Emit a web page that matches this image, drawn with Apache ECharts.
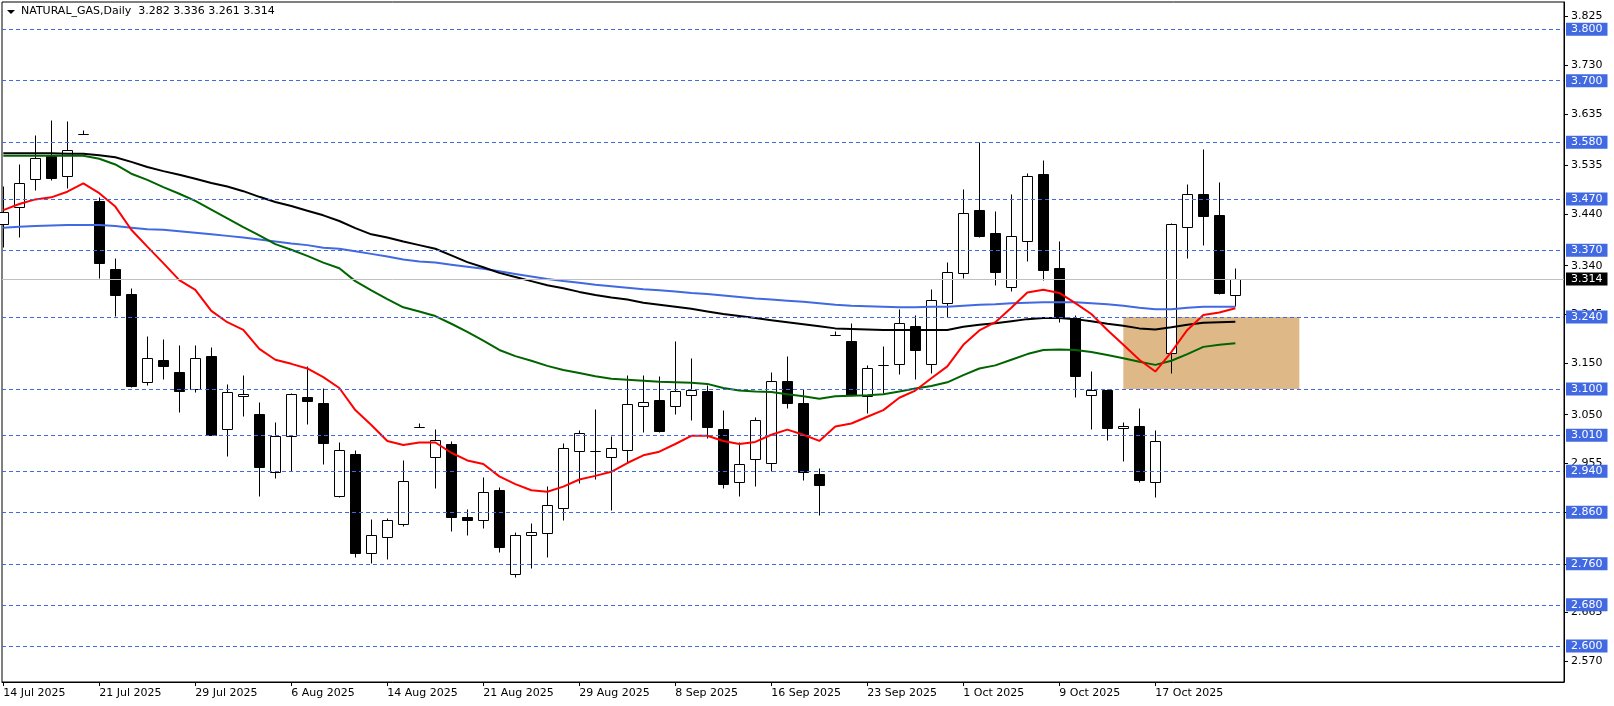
<!DOCTYPE html>
<html>
<head>
<meta charset="utf-8">
<script src="https://cdn.jsdelivr.net/npm/echarts@6/dist/echarts.min.js"></script>
<style>
html,body{margin:0;padding:0;background:#fff;}
#chart{width:1614px;height:706px;}
</style>
</head>
<body>
<div id="chart"></div>
<script>
// ---------------- data ----------------
const symbol = 'NATURAL_GAS';
const timeframe = 'Daily';

const dates = [
  '14 Jul 2025','15 Jul 2025','16 Jul 2025','17 Jul 2025','18 Jul 2025','20 Jul 2025',
  '21 Jul 2025','22 Jul 2025','23 Jul 2025','24 Jul 2025','25 Jul 2025','28 Jul 2025',
  '29 Jul 2025','30 Jul 2025','31 Jul 2025','1 Aug 2025','4 Aug 2025','5 Aug 2025',
  '6 Aug 2025','7 Aug 2025','8 Aug 2025','11 Aug 2025','12 Aug 2025','13 Aug 2025',
  '14 Aug 2025','15 Aug 2025','17 Aug 2025','18 Aug 2025','19 Aug 2025','20 Aug 2025',
  '21 Aug 2025','22 Aug 2025','25 Aug 2025','26 Aug 2025','27 Aug 2025','28 Aug 2025',
  '29 Aug 2025','1 Sep 2025','2 Sep 2025','3 Sep 2025','4 Sep 2025','5 Sep 2025',
  '8 Sep 2025','9 Sep 2025','10 Sep 2025','11 Sep 2025','12 Sep 2025','15 Sep 2025',
  '16 Sep 2025','17 Sep 2025','18 Sep 2025','19 Sep 2025','21 Sep 2025','22 Sep 2025',
  '23 Sep 2025','24 Sep 2025','25 Sep 2025','26 Sep 2025','29 Sep 2025','30 Sep 2025',
  '1 Oct 2025','2 Oct 2025','3 Oct 2025','6 Oct 2025','7 Oct 2025','8 Oct 2025',
  '9 Oct 2025','10 Oct 2025','13 Oct 2025','14 Oct 2025','15 Oct 2025','16 Oct 2025',
  '17 Oct 2025','20 Oct 2025','21 Oct 2025','22 Oct 2025','23 Oct 2025','24 Oct 2025'
];

const open = [3.421,3.454,3.508,3.554,3.514,3.596,3.466,3.334,3.285,3.113,
  3.157,3.133,3.100,3.164,3.022,3.086,3.051,2.939,3.008,3.085,
  3.073,2.891,2.974,2.780,2.813,2.837,3.026,2.967,2.993,2.850,
  2.845,2.904,2.741,2.815,2.819,2.868,2.979,2.980,2.967,2.982,
  3.066,3.079,3.066,3.088,3.096,3.022,2.919,2.963,2.957,3.116,
  3.073,2.935,3.205,3.194,3.086,3.146,3.148,3.223,3.148,3.267,
  3.325,3.448,3.404,3.298,3.388,3.518,3.336,3.238,3.088,3.098,
  3.024,3.028,2.920,3.170,3.415,3.479,3.438,3.282];

const high = [3.495,3.538,3.594,3.624,3.622,3.604,3.474,3.355,3.296,3.203,
  3.197,3.186,3.186,3.182,3.110,3.127,3.074,3.035,3.092,3.144,
  3.102,2.997,2.981,2.847,2.849,2.962,3.033,3.022,2.998,2.867,
  2.929,2.909,2.822,2.839,2.911,2.994,3.020,3.061,3.009,3.127,
  3.127,3.125,3.193,3.160,3.108,3.059,2.997,3.045,3.133,3.164,
  3.101,2.946,3.213,3.229,3.147,3.184,3.256,3.244,3.294,3.347,
  3.489,3.581,3.446,3.480,3.520,3.546,3.388,3.245,3.135,3.101,
  3.036,3.063,3.020,3.424,3.499,3.568,3.503,3.336];

const low = [3.377,3.396,3.487,3.507,3.491,3.596,3.316,3.243,3.103,3.107,
  3.120,3.056,3.095,3.010,2.970,3.048,2.892,2.926,2.941,3.031,
  2.955,2.889,2.773,2.762,2.770,2.833,3.026,2.908,2.824,2.815,
  2.830,2.782,2.735,2.752,2.774,2.845,2.918,2.925,2.865,2.956,
  3.017,3.017,3.052,3.040,3.004,2.908,2.892,2.912,2.941,3.064,
  2.922,2.854,3.205,3.087,3.053,3.092,3.129,3.119,3.131,3.241,
  3.316,3.396,3.303,3.291,3.350,3.312,3.231,3.085,3.022,3.000,
  2.959,2.920,2.889,3.132,3.354,3.381,3.285,3.261];

const close = [3.444,3.500,3.549,3.511,3.565,3.596,3.345,3.282,3.106,3.160,
  3.145,3.097,3.160,3.011,3.094,3.090,2.949,3.009,3.090,3.077,
  2.994,2.981,2.780,2.815,2.845,2.921,3.026,3.000,2.850,2.846,
  2.899,2.793,2.815,2.821,2.874,2.985,3.014,2.979,2.985,3.070,
  3.074,3.019,3.096,3.098,3.027,2.916,2.954,3.039,3.115,3.073,
  2.938,2.914,3.205,3.088,3.140,3.146,3.228,3.175,3.273,3.327,
  3.442,3.398,3.328,3.397,3.514,3.332,3.238,3.126,3.098,3.025,
  3.029,2.923,2.998,3.421,3.480,3.437,3.287,3.314];

const maRed = [3.448,3.460,3.469,3.473,3.484,3.500,3.481,3.455,3.410,3.377,
  3.345,3.312,3.293,3.252,3.230,3.215,3.178,3.157,3.149,3.140,
  3.123,3.102,3.059,3.030,2.999,2.991,2.996,2.996,2.976,2.961,
  2.954,2.930,2.915,2.903,2.900,2.910,2.924,2.931,2.939,2.956,
  2.971,2.978,2.993,3.009,3.009,2.999,2.993,2.997,3.011,3.021,
  3.011,2.999,3.027,3.033,3.046,3.059,3.083,3.097,3.121,3.144,
  3.186,3.214,3.230,3.258,3.288,3.293,3.287,3.267,3.246,3.215,
  3.186,3.157,3.134,3.172,3.215,3.244,3.249,3.257];

const maGreen = [3.554,3.554,3.554,3.554,3.554,3.554,3.548,3.537,3.519,3.507,
  3.493,3.480,3.466,3.449,3.432,3.415,3.399,3.382,3.371,3.359,
  3.346,3.335,3.310,3.292,3.275,3.259,3.251,3.242,3.227,3.211,
  3.194,3.176,3.164,3.155,3.145,3.137,3.131,3.125,3.120,3.118,
  3.116,3.114,3.113,3.112,3.110,3.102,3.097,3.095,3.094,3.090,
  3.086,3.081,3.086,3.087,3.088,3.090,3.095,3.101,3.106,3.113,
  3.127,3.140,3.146,3.157,3.168,3.176,3.177,3.176,3.172,3.166,
  3.160,3.153,3.147,3.155,3.168,3.182,3.186,3.189];

const maBlack = [3.559,3.559,3.559,3.559,3.558,3.558,3.555,3.551,3.542,3.532,
  3.524,3.517,3.509,3.501,3.494,3.485,3.474,3.464,3.456,3.447,
  3.438,3.427,3.413,3.401,3.395,3.387,3.380,3.373,3.360,3.347,
  3.337,3.326,3.318,3.310,3.302,3.296,3.289,3.283,3.278,3.274,
  3.268,3.264,3.260,3.256,3.251,3.246,3.242,3.238,3.234,3.230,
  3.226,3.222,3.218,3.217,3.216,3.215,3.215,3.215,3.215,3.215,
  3.221,3.225,3.228,3.232,3.236,3.238,3.238,3.236,3.232,3.227,
  3.223,3.218,3.216,3.220,3.225,3.229,3.230,3.231];

const maBlue = [3.414,3.416,3.417,3.418,3.419,3.419,3.419,3.417,3.414,3.411,
  3.410,3.407,3.404,3.401,3.398,3.395,3.391,3.387,3.383,3.380,
  3.375,3.373,3.368,3.363,3.358,3.352,3.348,3.346,3.342,3.338,
  3.334,3.329,3.324,3.319,3.314,3.310,3.307,3.303,3.300,3.297,
  3.294,3.292,3.290,3.287,3.285,3.282,3.279,3.276,3.274,3.272,
  3.270,3.267,3.264,3.262,3.261,3.260,3.259,3.259,3.260,3.260,
  3.262,3.264,3.265,3.267,3.268,3.269,3.269,3.269,3.267,3.265,
  3.262,3.258,3.255,3.255,3.258,3.260,3.260,3.260];

const levels = [3.800,3.700,3.580,3.470,3.370,3.240,3.100,3.010,2.940,2.860,2.760,2.680,2.600];
const yTicks = [3.825,3.730,3.635,3.535,3.440,3.340,3.245,3.150,3.050,2.955,2.860,2.760,2.665,2.570];
const xLabelIdx = [0,6,12,18,24,30,36,42,48,54,60,66,72];
const zoneX = [70, 81];
const zoneY = [3.240, 3.100];
const yRange = [2.5299, 3.8531];
const xRange = [-0.081, 97.54];

// ---------------- chart ----------------
const FONT = 'DejaVu Sans';
const last = close.length - 1;
const currentPrice = close[last];
const headerText = symbol + ',' + timeframe + '  ' +
  [open[last], high[last], low[last], close[last]].map(v => v.toFixed(3)).join(' ');

const candleData = open.map((o, i) => [i, o, high[i], low[i], close[i]]);
const toPairs = arr => arr.map((v, i) => [i, v]);

function renderCandle(params, api) {
  const i = api.value(0), o = api.value(1), h = api.value(2), l = api.value(3), c = api.value(4);
  const po = api.coord([i, o]), pc = api.coord([i, c]), ph = api.coord([i, h]), pl = api.coord([i, l]);
  const x = Math.round(po[0]) + 0.5;
  const top = Math.round(Math.min(po[1], pc[1])) + 0.5;
  const bot = Math.round(Math.max(po[1], pc[1])) + 0.5;
  const half = 5;
  const bull = c >= o;
  return {
    type: 'group',
    children: [
      { type: 'line', shape: { x1: x, y1: Math.round(ph[1]) + 0.5, x2: x, y2: Math.round(pl[1]) + 0.5 },
        style: { stroke: '#000', lineWidth: 1 } },
      { type: 'rect', shape: { x: x - half, y: top, width: half * 2, height: bot - top },
        style: { fill: bull ? '#fff' : '#000', stroke: '#000', lineWidth: 1 } }
    ]
  };
}

const levelLabel = {
  show: true, position: 'end', distance: 2,
  formatter: p => Number(p.value).toFixed(3),
  color: '#fff', backgroundColor: '#4169E1',
  padding: [1, 5, 0, 5], fontSize: 11, lineHeight: 12, fontFamily: FONT
};

const markLineData = levels.map(v => ({ yAxis: v }));
markLineData.push({
  yAxis: currentPrice,
  lineStyle: { color: '#C0C0C0', type: 'solid', width: 1 },
  label: Object.assign({}, levelLabel, { backgroundColor: '#000' })
});

const chart = echarts.init(document.getElementById('chart'), null, { renderer: 'canvas' });
chart.setOption({
  animation: false,
  backgroundColor: '#fff',
  textStyle: { fontFamily: FONT },
  grid: { left: 2, top: 2, right: 50, bottom: 24, show: true, borderColor: '#000', borderWidth: 1, backgroundColor: '#fff' },
  graphic: [
    { type: 'polygon', shape: { points: [[7, 10], [15, 10], [11, 14]] }, style: { fill: '#000' }, z: 100 },
    { type: 'text', left: 21, top: 6, style: { text: headerText, font: '11px "DejaVu Sans"', fill: '#000' }, z: 100 }
  ],
  xAxis: {
    type: 'value', min: xRange[0], max: xRange[1],
    axisLine: { show: true, onZero: false, lineStyle: { color: '#000', width: 1 } },
    splitLine: { show: false },
    axisTick: { show: true, customValues: xLabelIdx, length: 4, lineStyle: { color: '#000' } },
    axisLabel: {
      customValues: xLabelIdx, formatter: v => dates[Math.round(v)] || '',
      align: 'left', margin: 6, color: '#000', fontSize: 11, fontFamily: FONT
    }
  },
  yAxis: {
    type: 'value', position: 'right', min: yRange[0], max: yRange[1],
    axisLine: { show: true, onZero: false, lineStyle: { color: '#000', width: 1 } },
    splitLine: { show: false },
    axisTick: { show: true, customValues: yTicks, length: 4, lineStyle: { color: '#000' } },
    axisLabel: {
      customValues: yTicks, formatter: v => Number(v).toFixed(3),
      margin: 7, color: '#000', fontSize: 11, fontFamily: FONT
    }
  },
  series: [
    {
      type: 'line', name: 'levels', data: [], z: 1, clip: false, silent: true,
      markArea: {
        silent: true,
        itemStyle: { color: '#DEB887' },
        data: [[{ xAxis: zoneX[0], yAxis: zoneY[0] }, { xAxis: zoneX[1], yAxis: zoneY[1] }]]
      },
      markLine: {
        silent: true, symbol: 'none', precision: 3,
        emphasis: { disabled: true },
        lineStyle: { color: '#4169E1', type: [4, 3], width: 1 },
        label: levelLabel,
        data: markLineData
      }
    },
    {
      type: 'custom', name: 'candles', z: 2, renderItem: renderCandle,
      data: candleData, encode: { x: 0, y: [1, 2, 3, 4] }, silent: true
    },
    { type: 'line', name: 'MA blue', data: toPairs(maBlue), symbol: 'none', z: 3, silent: true,
      lineStyle: { color: '#4169E1', width: 2 } },
    { type: 'line', name: 'MA black', data: toPairs(maBlack), symbol: 'none', z: 3, silent: true,
      lineStyle: { color: '#000000', width: 2 } },
    { type: 'line', name: 'MA green', data: toPairs(maGreen), symbol: 'none', z: 3, silent: true,
      lineStyle: { color: '#006400', width: 2 } },
    { type: 'line', name: 'MA red', data: toPairs(maRed), symbol: 'none', z: 3, silent: true,
      lineStyle: { color: '#FF0000', width: 2 } }
  ]
});
</script>
</body>
</html>
